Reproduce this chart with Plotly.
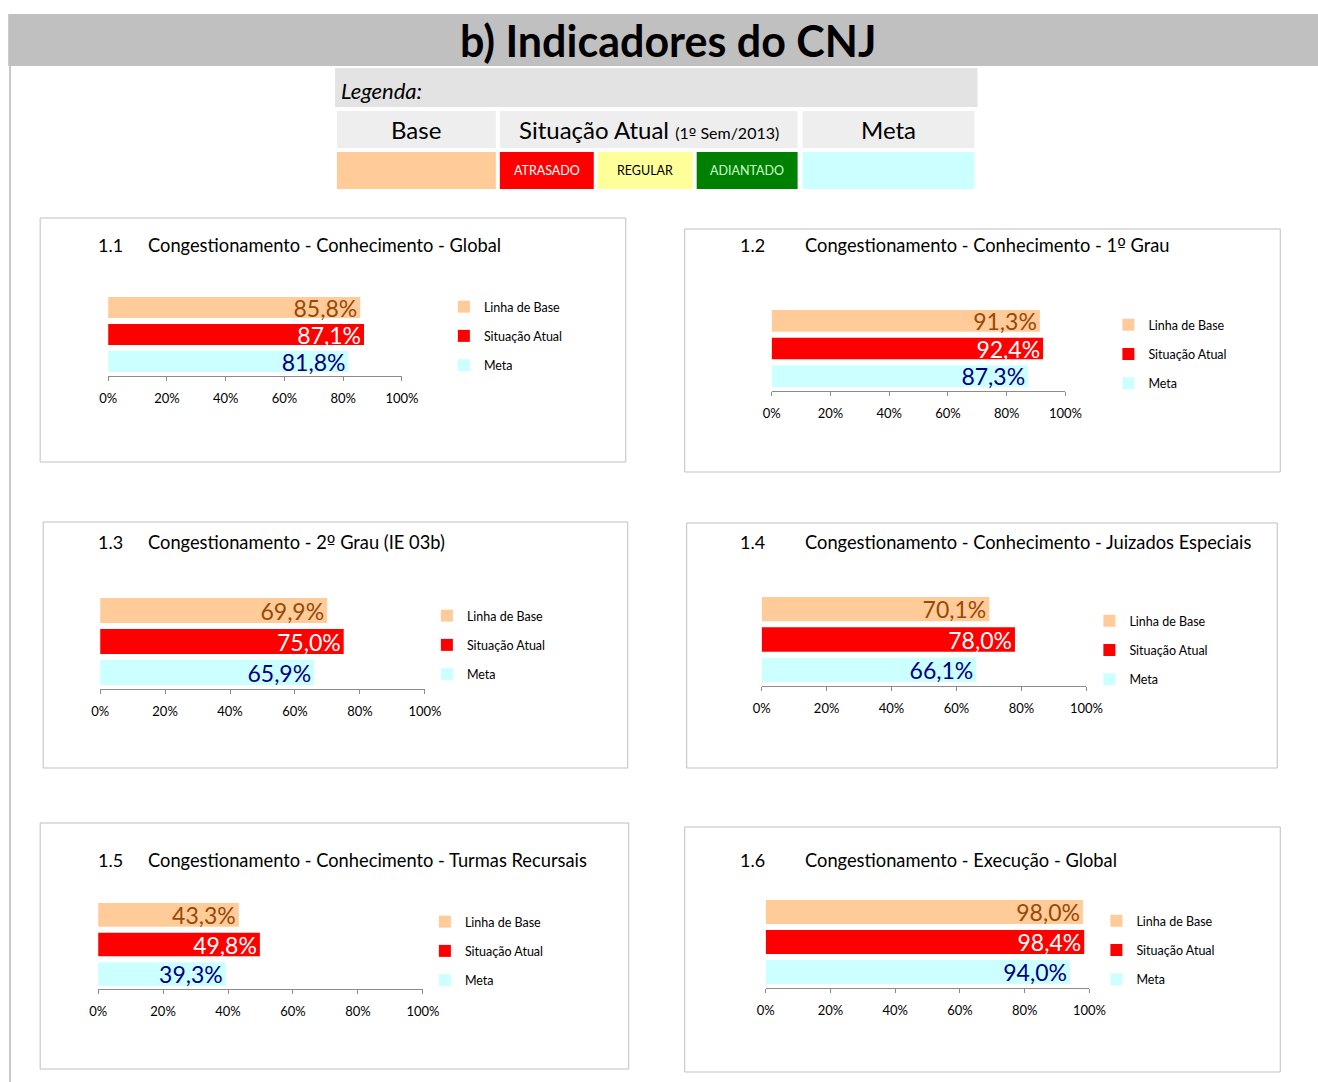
import plotly.graph_objects as go

# ---------------- data ----------------
chart_ids = ["1.1", "1.2", "1.3", "1.4", "1.5", "1.6"]
chart_titles = [
    "Congestionamento - Conhecimento - Global",
    "Congestionamento - Conhecimento - 1º Grau",
    "Congestionamento - 2º Grau (IE 03b)",
    "Congestionamento - Conhecimento - Juizados Especiais",
    "Congestionamento - Conhecimento - Turmas Recursais",
    "Congestionamento - Execução - Global",
]
series_names = ["Linha de Base", "Situação Atual", "Meta"]
linha_de_base = [85.8, 91.3, 69.9, 70.1, 43.3, 98.0]
situacao_atual = [87.1, 92.4, 75.0, 78.0, 49.8, 98.4]
meta = [81.8, 87.3, 65.9, 66.1, 39.3, 94.0]
tick_values = [0, 20, 40, 60, 80, 100]
tick_labels = ["0%", "20%", "40%", "60%", "80%", "100%"]
legend_cells = ["ATRASADO", "REGULAR", "ADIANTADO"]

# ---------------- styles ----------------
W, H = 1318, 1082
SX, OX = 0.981, 8.8   # horizontal calibration of the photographed page
FONT = "Lato"
bar_colors = ["#FFCC99", "#FF0000", "#CCFFFF"]
label_colors = ["#984807", "#FFFFFF", "#000080"]


def px(x):
    return ((x - OX) / SX) / W


def py(y):
    return 1 - y / H


def ordinal(t):
    return t.replace("º", "<span style='font-family:DejaVu Sans'>º</span>")


geom = [
    dict(box=(40, 218, 626, 462), ty=245, nx=96, tx=146, ax0=108, ax1=402, bt=297, mb=372, ay=376, lx=484, ly=307),
    dict(box=(685, 229, 1281, 472), ty=245, nx=738, tx=803, ax0=772, ax1=1066, bt=310, mb=387, ay=391, lx=1149, ly=325),
    dict(box=(43, 522, 628, 768), ty=542, nx=96, tx=146, ax0=100, ax1=425, bt=598, mb=685, ay=689, lx=467, ly=616),
    dict(box=(687, 523, 1278, 768), ty=542, nx=738, tx=803, ax0=762, ax1=1087, bt=597, mb=682, ay=686, lx=1130, ly=621),
    dict(box=(40, 823, 629, 1069), ty=860, nx=96, tx=146, ax0=98, ax1=423, bt=903, mb=986, ay=989, lx=465, ly=922),
    dict(box=(685, 827, 1281, 1072), ty=860, nx=738, tx=803, ax0=766, ax1=1090, bt=900, mb=984, ay=988, lx=1137, ly=921),
]

fig = go.Figure()
shapes = []
annotations = []

# header band
shapes.append(dict(type="rect", xref="paper", yref="paper", x0=px(8), x1=1.04, y0=py(66), y1=py(14),
                   fillcolor="#C0C0C0", line=dict(width=0), layer="below"))
shapes.append(dict(type="line", xref="paper", yref="paper", x0=max(px(9), 0.0008), x1=max(px(9), 0.0008),
                   y0=py(1082), y1=py(66), line=dict(color="#C8C8C8", width=2), layer="below"))
annotations.append(dict(text="b) Indicadores do CNJ", x=px(668), y=py(40), xref="paper", yref="paper",
                        showarrow=False, xanchor="center", yanchor="middle",
                        font=dict(family=FONT, size=43, color="#000000", weight="bold")))

# legend table
shapes.append(dict(type="rect", xref="paper", yref="paper", x0=px(335), x1=px(978), y0=py(107), y1=py(68),
                   fillcolor="#E3E3E3", line=dict(width=0), layer="below"))
annotations.append(dict(text="<i>Legenda:</i>", x=px(339), y=py(91), xref="paper", yref="paper",
                        showarrow=False, xanchor="left", yanchor="middle",
                        font=dict(family=FONT, size=22, color="#000000")))
header_cells = [(337, 496, "Base"),
                (500, 798, "Situação Atual <span style='font-size:16px'>(1" + ordinal("º") + " Sem/2013)</span>"),
                (803, 975, "Meta")]
for x0, x1, t in header_cells:
    shapes.append(dict(type="rect", xref="paper", yref="paper", x0=px(x0), x1=px(x1), y0=py(148), y1=py(111),
                       fillcolor="#EEEEEE", line=dict(width=0), layer="below"))
    annotations.append(dict(text=t, x=px((x0 + x1) / 2), y=py(130), xref="paper", yref="paper",
                            showarrow=False, xanchor="center", yanchor="middle",
                            font=dict(family=FONT, size=24, color="#000000")))
color_cells = [(337, 496, "#FFCC99", "", "#000000"),
               (500, 594, "#FF0000", legend_cells[0], "#FFFFFF"),
               (598, 693, "#FFFF99", legend_cells[1], "#000000"),
               (697, 798, "#008000", legend_cells[2], "#CCFFCC"),
               (803, 975, "#CCFFFF", "", "#000000")]
for x0, x1, c, t, tc in color_cells:
    shapes.append(dict(type="rect", xref="paper", yref="paper", x0=px(x0), x1=px(x1), y0=py(189), y1=py(152),
                       fillcolor=c, line=dict(width=0), layer="below"))
    if t:
        annotations.append(dict(text=t, x=px((x0 + x1) / 2), y=py(170), xref="paper", yref="paper",
                                showarrow=False, xanchor="center", yanchor="middle",
                                font=dict(family=FONT, size=12.5, color=tc)))

layout_axes = {}
for i, g in enumerate(geom):
    n = i + 1
    sfx = "" if n == 1 else str(n)
    bx0, by0, bx1, by1 = g["box"]
    shapes.append(dict(type="rect", xref="paper", yref="paper", x0=px(bx0), x1=px(bx1), y0=py(by1), y1=py(by0),
                       fillcolor="#FFFFFF", line=dict(color="#BFBFBF", width=1), layer="below"))
    annotations.append(dict(text=chart_ids[i], x=px(g["nx"]), y=py(g["ty"]), xref="paper", yref="paper",
                            showarrow=False, xanchor="left", yanchor="middle",
                            font=dict(family=FONT, size=18, color="#000000")))
    annotations.append(dict(text=ordinal(chart_titles[i]), x=px(g["tx"]), y=py(g["ty"]), xref="paper", yref="paper",
                            showarrow=False, xanchor="left", yanchor="middle",
                            font=dict(family=FONT, size=18.3, color="#000000")))

    gap = 6
    h = (g["mb"] - g["bt"] - 2 * gap) / 3
    s = h + gap
    top = g["bt"] - 4
    base_c = g["bt"] + h / 2
    meta_c = g["mb"] - h / 2
    lo = -(g["ay"] - meta_c) / s
    hi = 2 + (base_c - top) / s

    layout_axes["xaxis" + sfx] = dict(domain=[px(g["ax0"]), px(g["ax1"])], range=[0, 100], anchor="y" + sfx,
                                      tickmode="array", tickvals=tick_values, ticktext=tick_labels,
                                      showline=True, linecolor="#8C8C8C",
                                      linewidth=1, ticks="outside", ticklen=4, tickcolor="#8C8C8C",
                                      showgrid=False, zeroline=False, fixedrange=True,
                                      ticklabelstandoff=6,
                                      tickfont=dict(family=FONT, size=13, color="#000000"))
    layout_axes["yaxis" + sfx] = dict(domain=[py(g["ay"]), py(top)], anchor="x" + sfx, type="category",
                                      categoryarray=series_names[::-1], categoryorder="array",
                                      range=[lo, hi], visible=False, fixedrange=True)

    vals = [linha_de_base[i], situacao_atual[i], meta[i]]
    leg = "legend" + sfx
    for j, name in enumerate(series_names):
        v = vals[j]
        fig.add_trace(go.Bar(
            x=[v], y=[name], orientation="h", name=name,
            marker=dict(color=bar_colors[j], line=dict(width=0)),
            width=h / s,
            text=[f"{v:.1f}%".replace(".", ",")], textposition="inside", insidetextanchor="end",
            constraintext="none",
            textfont=dict(family=FONT, size=23, color=label_colors[j]),
            xaxis="x" + sfx, yaxis="y" + sfx, legend=leg, legendgroup=f"{n}-{j}",
            hoverinfo="skip", cliponaxis=False,
        ))
    layout_axes[leg] = dict(x=px(g["lx"] - 40), y=py(g["ly"] - 15), xanchor="left", yanchor="top",
                            bgcolor="rgba(0,0,0,0)", borderwidth=0, tracegroupgap=10,
                            traceorder="grouped", itemwidth=30,
                            font=dict(family=FONT, size=12.5, color="#000000"))

fig.update_layout(
    width=W, height=H, autosize=False,
    margin=dict(l=0, r=0, t=0, b=0, pad=0),
    paper_bgcolor="#FFFFFF", plot_bgcolor="rgba(0,0,0,0)",
    barmode="overlay", separators=",.",
    shapes=shapes, annotations=annotations,
    showlegend=True,
    **layout_axes,
)

post = (
    "document.documentElement.style.overflow='hidden';"
    "document.body.style.margin='0';"
    "document.body.style.overflow='hidden';"
)
fig.write_html("out.html", config={"displayModeBar": False, "staticPlot": True}, post_script=post)
